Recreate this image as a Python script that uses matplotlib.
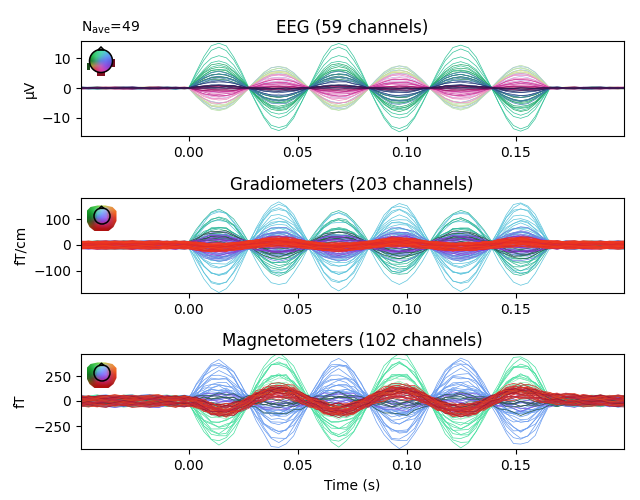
import numpy as np
import matplotlib
matplotlib.use('Agg')
import matplotlib.pyplot as plt
from matplotlib.colors import to_rgb
from matplotlib.patches import Circle, Polygon

# sample times (s)
times = [-0.05, -0.046, -0.042, -0.038, -0.034, -0.03, -0.026, -0.022, -0.018, -0.014, -0.01, -0.006, -0.002,
         0.0, 0.0034, 0.0069, 0.0103, 0.0138, 0.0172, 0.0206, 0.0241,
         0.0275, 0.0309, 0.0344, 0.0378, 0.0413, 0.0447, 0.0481, 0.0516,
         0.055, 0.0585, 0.0619, 0.0654, 0.0688, 0.0723, 0.0757, 0.0792,
         0.0826, 0.0861, 0.0896, 0.0931, 0.0966, 0.1001, 0.1036, 0.1071,
         0.1106, 0.1141, 0.1177, 0.1212, 0.1248, 0.1283, 0.1319, 0.1354,
         0.139, 0.1423, 0.1457, 0.149, 0.1523, 0.1556, 0.159, 0.1623,
         0.1656, 0.169, 0.173, 0.177, 0.181, 0.185, 0.189, 0.193, 0.197, 0.2]

eeg_wave = [0]*13 + [0, .37, .71, .95, 1.02, .95, .71, .37,
                     0, -.35, -.69, -.91, -.98, -.91, -.69, -.35,
                     0, .37, .71, .95, 1.02, .95, .71, .37,
                     0, -.36, -.7, -.93, -1, -.93, -.7, -.36,
                     0, .35, .69, .91, .98, .91, .69, .35,
                     0, -.36, -.7, -.93, -1, -.93, -.7, -.36] + [0]*10
grad_wave = [0]*13 + [0, -.36, -.7, -.93, -1, -.93, -.7, -.36,
                      0, .36, .7, .93, 1, .93, .7, .36,
                      0, -.34, -.67, -.88, -.95, -.88, -.67, -.34,
                      0, .35, .68, .9, .97, .9, .68, .35,
                      0, -.35, -.68, -.9, -.97, -.9, -.68, -.35,
                      0, .36, .7, .93, 1, .93, .7, .36] + [0]*10
grad_red_wave = [0]*13 + [-.1, -.4, -.7, -.85, -.8, -.7, -.5, -.25,
                          .1, .45, .75, .95, 1, .9, .7, .35,
                          0, -.3, -.6, -.75, -.75, -.65, -.45, -.2,
                          .05, .4, .7, .9, .95, .85, .6, .3,
                          0, -.25, -.5, -.65, -.65, -.55, -.4, -.15,
                          .1, .4, .7, .9, 1, .9, .65, .3,
                          .15, .1, .05, 0, 0, 0, 0, 0, 0, 0]
mag_wave = [0]*13 + [0, .34, .67, .88, .95, .88, .67, .34,
                     0, -.36, -.7, -.93, -1, -.93, -.7, -.36,
                     0, .35, .68, .9, .97, .9, .68, .35,
                     0, -.36, -.7, -.93, -1, -.93, -.7, -.36,
                     0, .36, .7, .93, 1, .93, .7, .36,
                     0, -.34, -.67, -.88, -.95, -.88, -.67, -.34] + [0]*10
mag_red_wave = [0]*13 + [0, -.2, -.5, -.8, -1, -1, -.85, -.5,
                         -.1, .35, .7, .95, 1, .95, .75, .35,
                         0, -.35, -.7, -.95, -1, -.95, -.75, -.4,
                         0, .4, .75, .95, 1, .95, .75, .4,
                         0, -.4, -.75, -.95, -1, -.95, -.75, -.4,
                         0, .4, .75, .95, 1, .9, .7, .45,
                         .3, .25, .2, .15, .1, .08, .05, .02, 0, 0]

# small ripples seen on top of the traces
ripple_a = [.3, -.2, .4, .6, .1, -.5, -.2, .5, .7, .2, -.3, .1, .5,
            .2, -.4, .1, .6, -.2, .3, -.5, .2, .4, -.1, .5, -.6, .1, .3, -.3, .6, .2,
            -.4, .4, .1, -.6, .5, .2, -.2, .3, -.5, .1, .6, -.3, .2, .4, -.5, .1,
            .3, -.2, .5, -.4, .2, .6, -.1, -.5, .3, .2, -.3, .5, .1, -.6, .4,
            .2, -.3, .6, .4, -.2, .1, -.4, .3, .5, .1]
ripple_b = [-.4, .2, .6, -.1, -.6, -.3, .3, .1, -.5, -.7, .2, .4, -.2,
            .1, .5, -.3, -.1, .4, -.6, .2, .3, -.4, .6, .1, -.2, .5, -.5, .3, -.1, .4,
            .2, -.6, .3, .5, -.1, -.4, .6, -.2, .1, .4, -.5, .2, .6, -.3, .1, -.2,
            .5, .3, -.6, .2, .1, -.4, .5, .3, -.5, .1, .6, -.2, -.4, .3, .2,
            -.5, .4, -.1, -.6, .2, .5, .3, -.4, -.2, .3]
ripple_c = [.6, .1, -.3, -.6, .2, .5, .7, -.1, -.4, .3, .6, -.2, -.5,
            -.1, .3, .6, -.4, .1, .2, .5, -.3, -.6, .1, .4, .3, -.2, .5, -.4, .2, -.5,
            .5, .1, -.3, .2, .6, -.4, .1, -.5, .4, .2, -.1, .5, -.4, -.2, .6, .3,
            -.3, .5, .1, .2, -.6, -.1, .4, .2, .6, -.4, -.1, .3, .5, -.2, -.3,
            .4, .6, -.2, -.5, -.1, .3, .6, .1, -.3, -.5]
ripple_d = [-.1, -.5, .2, .3, .6, .1, -.6, -.4, .2, .5, -.1, -.6, .3,
            -.3, .1, -.5, .4, .2, -.3, .6, .1, -.2, .5, -.5, .2, .3, -.1, .6, -.3, .1,
            -.2, .5, .3, -.4, -.1, .6, .2, .4, -.3, -.5, .2, .1, -.6, .5, .3, -.1,
            -.5, .4, .2, .6, -.2, .3, -.5, .1, -.2, .5, .3, -.6, .2, .4, -.1,
            .1, -.5, .3, .2, -.6, -.3, .4, -.2, .6, .2]
ripples = [ripple_a, ripple_b, ripple_c, ripple_d]

# colour groups: colour, peak of each channel
eeg_groups = [
    ('#35c49a', [14.8, 13.6, 10.5, 9, 7.5, 6.5]),
    ('#25a868', [8, 7, 6.2, 5.4, 4.8]),
    ('#1f7f4f', [4.5, 4, 3.4, 3]),
    ('#b8e0a8', [-7.5, -7, -6.6, -6, -5.5]),
    ('#a8c8d8', [-7.2, -6.3, -5]),
    ('#d8e090', [-6, -5.2]),
    ('#3f7fb0', [5.5, 4.6, 4, 3.2, 2.6]),
    ('#c0b0e8', [-4.8, -3.6, -2.6, -1.6]),
    ('#f08ac0', [-5, -4.2, -3.5, -3, -2.4, -1.8, -1.2]),
    ('#28407f', [2.4, 1.8, 1.2, .8, .4]),
    ('#c83098', [-2.8, -2, -1.4, -.9, -.5]),
    ('#a01060', [.6, -.3, .3, -.7]),
    ('#301850', [.15, -.1, .5, 1]),
]
grad_groups = [
    ('#5cc4dc', [172, 160, 148, 132, 118, 106, 96, 86, 78, 70, 64, 58, 52, 48, 44, 40, 36, 32, 28, 26, 24, 22]),
    ('#5cc4dc', [-145, -122, -100]),
    ('#2fb89a', [-125, -115, -102, -90, -78, -70, -62, -56, -50, -44, -38, -34, -28, -24]),
    ('#b8a8f0', [45, -45, 38, -38, 30, -30]),
    ('#6c78e0', [60, 54, 50, 46, 42, 38, 34, 30, 26, 22, 18, 14, -12, -16, -20, -24, -28, -32, -36, -40, -44, -50, -10, 8]),
    ('#1f5f3a', [-50, -44, -38, -30, -24, -18, -12, -8]),
    ('#8a2fd0', [34, 30, 26, 22, 18, 14, 10, -8, -12, -16, -20, -24, -28, 6]),
]
grad_red = [22, 20, 18, 17, 16, 15, 14, 13, 12, 11, 10, 9, 8, 7, 6, 5, 18, 15, 12, 9, 6, 20, 14, 10, 8, 16, 13, 11, 7, 19,
            17, 12, 9, 15, 10, 21, 14, 8, 11, 6]
mag_groups = [
    ('#6a9cf0', [425, 405, 385, 350, 310, 280, 245, 215, 190, 170, 150, 135, 120, 105, 90, 80, 70, 60, 50, 40, 30, 120, 90, 60]),
    ('#48e0a0', [-445, -425, -400, -370, -335, -300, -270, -245, -220, -200, -180, -160, -140, -120, -100, -85]),
    ('#90f0b8', [-200, -170, -140]),
    ('#7a5ce0', [70, 55, 45, 35, 25, -30, -45, -60]),
    ('#2a5a4a', [90, 60, -40, -70, 30, -20, -90, 50]),
]
mag_red = [130, 125, 120, 115, 110, 105, 100, 95, 90, 85, 80, 75, 70, 120, 110, 100, 90, 80, 70, 60, 128, 118, 108, 98,
           88, 78, 68, 112, 102, 92, 82, 72, 122, 96, 84, 66]

eeg_offsets = [.1, -.15, .2, -.05, .05, -.2, .15, 0, -.1, .2, -.15]
grad_offsets = [-13, 6, -8, 12, 2, -11, 9, -3, 13, -6, 4, 10, -9, 0, 7, -13, 11]
mag_offsets = [-42, 18, -25, 38, 5, -35, 28, -12, 44, -20, 12, 33, -30, -4, 22, -46, 40]

eeg_head = [['#30c060', '#40d080', '#50e0b0', '#50d0d0', '#50b0e0'],
            ['#20b040', '#40d080', '#50c0c0', '#60a0f0', '#6090f0'],
            ['#208030', '#40a080', '#6080e0', '#7070f0', '#6060e0'],
            ['#a0a030', '#c07070', '#c060c0', '#9050e0', '#8040d0'],
            ['#c03030', '#e03060', '#e040a0', '#c040c0', '#a030b0']]
meg_head = [['#30a040', '#40c040', '#60d040', '#a0d040', '#d0c040', '#e0a040', '#f09040'],
            ['#20a030', '#30c050', '#70d0a0', '#90d0f0', '#a0b0f0', '#e09050', '#f08030'],
            ['#109020', '#20a040', '#60c0d0', '#80a8ff', '#9090f0', '#d06050', '#f06020'],
            ['#107020', '#308040', '#6080e0', '#8078ff', '#a070f0', '#c04060', '#e04020'],
            ['#306020', '#604030', '#905090', '#9040d0', '#a040c0', '#c03050', '#d03020'],
            ['#705010', '#903020', '#c02030', '#c02050', '#c02050', '#c02030', '#b03020'],
            ['#a03010', '#a02010', '#b01010', '#b01010', '#b01010', '#a01010', '#a01010']]

W, H = 640, 500
fig = plt.figure(figsize=(6.4, 5.0), dpi=100)


def px_axes(left, top, right, bottom, **kw):
    return fig.add_axes([left / W, 1 - bottom / H, (right - left) / W, (bottom - top) / H], **kw)


def draw_panel(top, groups, wave, offsets, noise, red=None, red_wave=None, red_colors=None):
    ax = px_axes(81, top, 623.5, top + 95)
    t = np.array(times)
    n = 0
    for color, gains in groups:
        for g in gains:
            sign = 1 if n % 8 < 4 else -1
            y = g * np.array(wave) + offsets[n % len(offsets)] + sign * noise * np.array(ripples[n % 4])
            ax.plot(t, y, color=color, lw=0.5)
            n += 1
    if red is not None:
        for i, g in enumerate(red):
            sign = 1 if n % 8 < 4 else -1
            y = g * np.array(red_wave) + offsets[n % len(offsets)] + sign * noise * np.array(ripples[n % 4])
            ax.plot(t, y, color=red_colors[i % len(red_colors)], lw=0.5)
            n += 1
    ax.set_xlim(-0.0495, 0.1995)
    ax.set_xticks([0, 0.05, 0.1, 0.15])
    ax.set_xticklabels(['0.00', '0.05', '0.10', '0.15'])
    return ax


def head_icon(cx, cy, grid, outline, r, ring_y=0):
    ic = px_axes(cx - 17, cy - 17, cx + 17, cy + 17)
    ic.set_xlim(-17, 17)
    ic.set_ylim(17, -17)
    ic.axis('off')
    rgb = np.array([[to_rgb(c) for c in row] for row in grid])
    if outline is None:
        im = ic.imshow(rgb, extent=(-12, 12, 12, -12), interpolation='bilinear')
        im.set_clip_path(Circle((0, 0), r, transform=ic.transData))
        for xy, w, h, c in [((-14, 2), 3, 7, '#184818'), ((11.5, -2), 2.5, 8, '#701020'), ((-4, 11), 8, 4, '#801020')]:
            ic.add_patch(plt.Rectangle(xy, w, h, color=c, lw=0))
        ic.add_patch(Polygon([(-3, -11), (0, -14), (3, -11)], fc='none', ec='k', lw=1.1))
    else:
        im = ic.imshow(rgb, extent=(-15, 15, 13.5, -13), interpolation='bilinear')
        im.set_clip_path(Polygon(outline, transform=ic.transData))
        ic.add_patch(Polygon([(-2.5, ring_y - 7.5), (0, ring_y - 10), (2.5, ring_y - 7.5)], fc='none', ec='k', lw=0.9))
    ic.add_patch(Circle((0.5 if outline else 0, ring_y), r, fc='none', ec='k', lw=1.1))
    ic.set_aspect('equal')


ax1 = draw_panel(41, eeg_groups, eeg_wave, eeg_offsets, 0.25)
ax1.set_ylim(-16.2, 15.9)
ax1.set_yticks([-10, 0, 10])
ax1.set_ylabel('µV')
ax1.set_title('EEG (59 channels)', fontsize=12)
ax1.text(0, 1.05, r'N$_{\mathrm{ave}}$=49', transform=ax1.transAxes, fontsize=10, va='bottom')

ax2 = draw_panel(198, grad_groups, grad_wave, grad_offsets, 6, grad_red, grad_red_wave, ['#ee3322', '#f0401c', '#e02828'])
ax2.set_ylim(-188, 184)
ax2.set_yticks([-100, 0, 100])
ax2.set_ylabel('fT/cm')
ax2.set_title('Gradiometers (203 channels)', fontsize=12)

ax3 = draw_panel(354, mag_groups, mag_wave, mag_offsets, 30, mag_red, mag_red_wave, ['#d8302c', '#a01830', '#e04020', '#c02840'])
ax3.set_ylim(-480, 470)
ax3.set_yticks([-250, 0, 250])
ax3.set_ylabel('fT')
ax3.set_title('Magnetometers (102 channels)', fontsize=12)
ax3.set_xlabel('Time (s)')

shield = [(-15, -7), (-11, -11), (-4, -12.5), (4, -12.5), (11, -11), (15, -7), (15, 3), (12, 9), (7, 13), (-7, 13), (-12, 9), (-15, 3)]
head_icon(101, 61, eeg_head, None, 11.5)
head_icon(101.5, 218, meg_head, shield, 8, ring_y=-2)
head_icon(101.5, 375, meg_head, shield, 8, ring_y=-2)

fig.savefig('out.png', dpi=100)
